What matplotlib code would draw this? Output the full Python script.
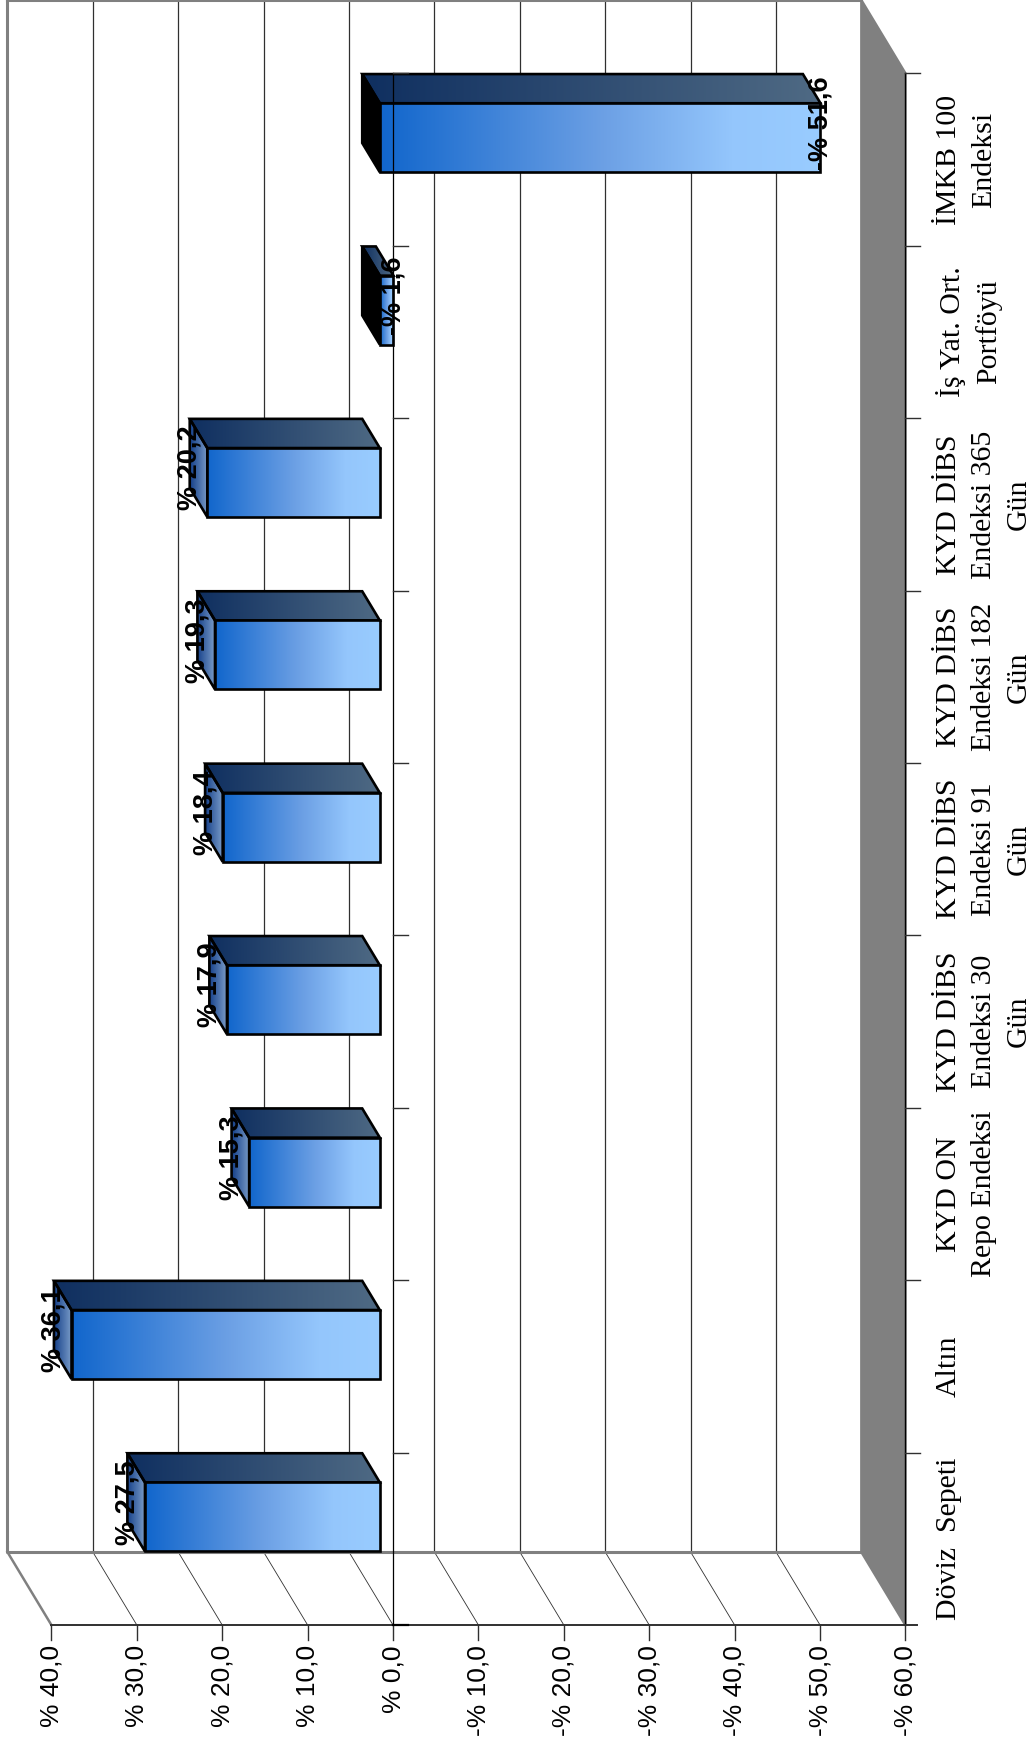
import matplotlib
matplotlib.use('Agg')
import matplotlib.pyplot as plt
from matplotlib.colors import LinearSegmentedColormap
from matplotlib.patches import Polygon
import numpy as np

# Data
categories = ['Döviz  Sepeti', 'Altın', 'KYD ON\nRepo Endeksi', 'KYD DİBS\nEndeksi 30\nGün',
              'KYD DİBS\nEndeksi 91\nGün', 'KYD DİBS\nEndeksi 182\nGün', 'KYD DİBS\nEndeksi 365\nGün',
              'İş Yat. Ort.\nPortföyü', 'İMKB 100\nEndeksi']
values = [27.5, 36.1, 15.3, 17.9, 18.4, 19.3, 20.2, -1.6, -51.6]
value_ticks = [40, 30, 20, 10, 0, -10, -20, -30, -40, -50, -60]
tick_labels = ['% 40,0', '% 30,0', '% 20,0', '% 10,0', '% 0,0', '-% 10,0', '-% 20,0',
               '-% 30,0', '-% 40,0', '-% 50,0', '-% 60,0']

VMIN, VMAX = -60, 40
N = len(categories)
# how far the back wall is shifted from the front plane, in axis units
DEPTH_V = 5.15
DEPTH_C = 0.4234

front_cm = LinearSegmentedColormap.from_list('front', [(0, '#1166cc'), (0.5, '#6b9fe4'), (0.8, '#94c6fc'), (1, '#99ccff')])
top_cm = LinearSegmentedColormap.from_list('top', ['#0f2f60', '#4f6a84'])
cap_cm = LinearSegmentedColormap.from_list('cap', ['#15408a', '#7a9cc8'])
GRAD = np.linspace(0, 1, 256).reshape(1, -1)

fig = plt.figure(figsize=(10.36, 17.45), dpi=100)
ax = fig.add_axes([0, 0, 1, 1])
ax.axis('off')


def pt(v, c, d):
    return (v + d * DEPTH_V, c + d * DEPTH_C)


def face(corners, cmap, z):
    # gradient always runs left to right on the page, outline drawn on top
    xs = [p[0] for p in corners]
    ys = [p[1] for p in corners]
    im = ax.imshow(GRAD, cmap=cmap, extent=[max(xs), min(xs), min(ys), max(ys)],
                   aspect='auto', zorder=z, interpolation='bilinear')
    poly = Polygon(corners, closed=True, fc='none', ec='black', lw=1.9, joinstyle='miter', zorder=z + 0.1)
    ax.add_patch(poly)
    im.set_clip_path(poly)


def solid(corners, color, z, ec='black'):
    ax.add_patch(Polygon(corners, closed=True, fc=color, ec=ec, lw=1.9, joinstyle='miter', zorder=z))


# Back wall and its grid
for v in value_ticks[1:-1]:
    ax.plot(*zip(pt(v, 0, 1), pt(v, N, 1)), color='#303030', lw=0.9, zorder=1)
    ax.plot(*zip(pt(v, 0, 1), pt(v, 0, 0)), color='#303030', lw=0.6, zorder=1)

edge = '#808080'
ax.plot(*zip(pt(VMAX, N, 1), pt(VMAX, 0, 1), pt(VMIN, 0, 1)), color=edge, lw=2.2, zorder=2)
ax.plot(*zip(pt(VMAX, N, 1), pt(VMIN, N, 1)), color=edge, lw=2.2, zorder=2)
ax.plot(*zip(pt(VMAX, 0, 1), pt(VMAX, 0, 0)), color=edge, lw=1.8, zorder=2)

# Grey floor on the right side
solid([pt(VMIN, 0, 1), pt(VMIN, N, 1), pt(VMIN, N, 0), pt(VMIN, 0, 0)], edge, 2, ec=edge)

# Bars
for i, val in enumerate(values):
    c0, c1 = i + 0.3, i + 0.7
    d0, d1 = 0.3, 0.7
    z = 3 + i * 0.5
    face([pt(val, c1, d0), pt(0, c1, d0), pt(0, c1, d1), pt(val, c1, d1)], top_cm, z)
    left = max(val, 0)
    cap = [pt(left, c0, d0), pt(left, c1, d0), pt(left, c1, d1), pt(left, c0, d1)]
    if val > 0:
        face(cap, cap_cm, z)
    else:
        solid(cap, 'black', z)
    face([pt(val, c0, d0), pt(0, c0, d0), pt(0, c1, d0), pt(val, c1, d0)], front_cm, z + 0.2)

# Front axes
ax.plot(*zip(pt(0, 0, 0), pt(0, N, 0)), color='black', lw=0.9, zorder=10)
ax.plot(*zip(pt(VMIN, 0, 0), pt(VMIN, N, 0)), color='black', lw=1.0, zorder=10)
ax.plot([VMAX, VMIN - 1.3], [0, 0], color='#303030', lw=1.4, zorder=10)
for v, lab in zip(value_ticks, tick_labels):
    ax.plot([v, v], [0, -0.087], color='#303030', lw=1.0, zorder=10)
    ax.text(v, -0.116, lab, rotation=90, ha='center', va='top', fontsize=19,
            family='Liberation Sans', color='black', zorder=11)
for i in range(1, N + 1):
    ax.plot([VMIN, VMIN - 1.75], [i, i], color='#303030', lw=1.0, zorder=10)
    ax.plot([0, -1.75], [i, i], color='#303030', lw=1.0, zorder=10)
ax.plot([0, -1.75], [0, 0], color='black', lw=1.6, zorder=10)

# Labels
for i, (name, val) in enumerate(zip(categories, values)):
    ax.text(-63.6, i + 0.5, name, rotation=90, ha='left', va='center', multialignment='center',
            fontsize=21.5, family='Liberation Serif', linespacing=1.45, color='black', zorder=11)
    d = 0.7 if val > 0 else 0.3
    txt = '% ' + f'{val:.1f}'.replace('.', ',') if val > 0 else '-% ' + f'{-val:.1f}'.replace('.', ',')
    ax.text(val + d * DEPTH_V, i + 0.5 + 0.5 * DEPTH_C, txt, rotation=90, ha='center', va='center',
            fontsize=19.5, fontweight='bold', family='Liberation Sans', color='black', zorder=12)

ax.set_xlim(46.02, -75.29)
ax.set_ylim(-0.696, 9.426)

fig.savefig('out.png', dpi=100, facecolor='white')
